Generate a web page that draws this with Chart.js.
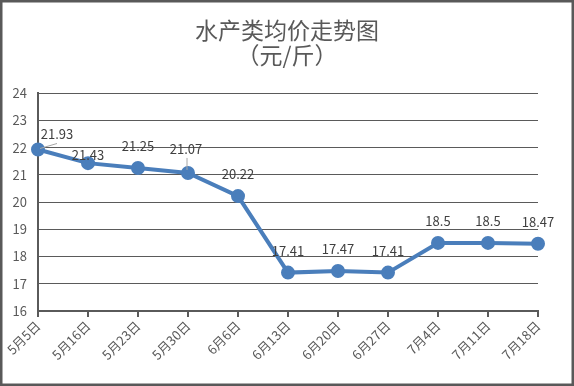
<!DOCTYPE html>
<html>
<head>
<meta charset="utf-8">
<script src="https://cdn.jsdelivr.net/npm/chart.js@4/dist/chart.umd.min.js"></script>
<style>
  html, body { margin: 0; padding: 0; background: #ffffff; }
  #wrap { width: 574px; height: 386px; position: relative; }
  canvas { display: block; }
</style>
</head>
<body>
<div id="wrap"><canvas id="c" width="574" height="386"></canvas></div>
<script>
const categories = ['5月5日','5月16日','5月23日','5月30日','6月6日','6月13日','6月20日','6月27日','7月4日','7月11日','7月18日'];
const prices = [21.93, 21.43, 21.25, 21.07, 20.22, 17.41, 17.47, 17.41, 18.5, 18.5, 18.47];
const priceLabels = ['21.93','21.43','21.25','21.07','20.22','17.41','17.47','17.41','18.5','18.5','18.47'];
const titleLines = ['水产类均价走势图', '（元/斤）'];
const yMin = 16, yMax = 24, yStep = 1;

// label placement tweaks (style only: pixel offsets from each point)
const labelShift = [[19,-15],[0,-8],[0,-22],[-2,-24],[0,-22],[0,-22],[0,-22],[0,-22],[0,-22],[0,-22],[0,-22]];
const leaderLines = [0, 3];

const FONT = '"Noto Sans CJK SC", "Noto Sans", sans-serif';
const TEXT = '#595959';
const GRID = '#5a5a5a';
const LINE = '#4a7ebb';

const labelPlugin = {
  id: 'pointLabels',
  afterDatasetsDraw(chart) {
    const ctx = chart.ctx;
    const meta = chart.getDatasetMeta(0);
    ctx.save();
    ctx.font = '13px ' + FONT;
    ctx.fillStyle = '#404040';
    ctx.textAlign = 'center';
    ctx.textBaseline = 'middle';
    meta.data.forEach((pt, i) => {
      const [dx, dy] = labelShift[i];
      const lx = pt.x + dx, ly = pt.y + dy;
      if (leaderLines.includes(i)) {
        ctx.strokeStyle = '#a6a6a6';
        ctx.lineWidth = 1;
        ctx.beginPath();
        if (i === 0) { ctx.moveTo(pt.x + 2, pt.y - 1); ctx.lineTo(lx, ly + 9); }
        else { ctx.moveTo(pt.x - 1, pt.y - 3); ctx.lineTo(pt.x - 1, ly + 9); }
        ctx.stroke();
      }
      ctx.fillText(priceLabels[i], lx, ly);
    });
    ctx.restore();
  }
};

const borderPlugin = {
  id: 'outerBorder',
  beforeDraw(chart) {
    const ctx = chart.ctx;
    ctx.save();
    ctx.fillStyle = '#ffffff';
    ctx.fillRect(0, 0, chart.width, chart.height);
    ctx.restore();
  },
  afterDraw(chart) {
    const ctx = chart.ctx;
    ctx.save();
    ctx.strokeStyle = '#595959';
    ctx.lineWidth = 3;
    ctx.strokeRect(1, 1, chart.width - 2, chart.height - 2);
    ctx.restore();
  }
};

new Chart(document.getElementById('c'), {
  type: 'line',
  data: {
    labels: categories,
    datasets: [{
      data: prices,
      borderColor: LINE,
      backgroundColor: LINE,
      borderWidth: 4,
      pointRadius: 5,
      pointHoverRadius: 5,
      pointBackgroundColor: LINE,
      pointBorderColor: LINE,
      tension: 0,
      clip: false
    }]
  },
  options: {
    responsive: false,
    animation: false,
    events: [],
    layout: { padding: 0 },
    plugins: {
      legend: { display: false },
      tooltip: { enabled: false },
      title: {
        display: true,
        text: titleLines,
        color: TEXT,
        font: { family: FONT, size: 23, weight: 'normal', lineHeight: 1.09 },
        padding: { top: 18, bottom: 25 }
      }
    },
    scales: {
      x: {
        offset: false,
        grid: { drawOnChartArea: false, drawTicks: true, tickLength: 6, color: GRID, lineWidth: 2 },
        border: { display: true, color: GRID, width: 2 },
        ticks: {
          color: TEXT,
          font: { family: FONT, size: 13 },
          minRotation: 45,
          maxRotation: 45,
          autoSkip: false,
          padding: 1
        },
        afterFit(scale) { scale.height = 75; }
      },
      y: {
        min: yMin,
        max: yMax,
        grid: { color: GRID, lineWidth: 1, drawTicks: false },
        border: { display: true, color: GRID, width: 2 },
        ticks: {
          stepSize: yStep,
          color: TEXT,
          font: { family: FONT, size: 13 },
          padding: 11
        },
        afterFit(scale) { scale.width = 38; }
      },
      rightSpace: {
        type: 'linear',
        position: 'right',
        display: true,
        grid: { display: false, drawTicks: false },
        border: { display: false },
        ticks: { display: false },
        afterFit(scale) { scale.width = 36; }
      }
    }
  },
  plugins: [labelPlugin, borderPlugin]
});
</script>
</body>
</html>
